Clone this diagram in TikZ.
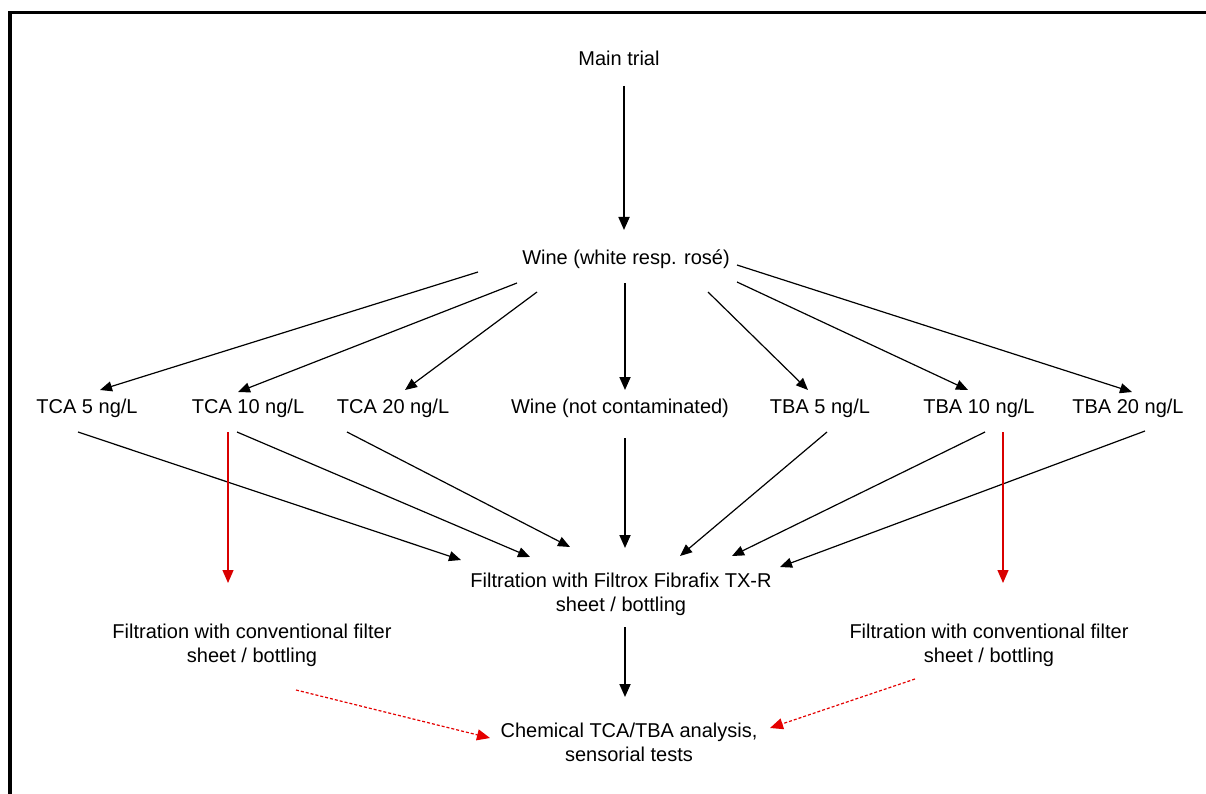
\documentclass[tikz,border=0pt]{standalone}
\usepackage{fontspec}
\setmainfont{Liberation Sans}
\usetikzlibrary{arrows.meta,calc}
\tikzset{
  lbl/.style={inner sep=0pt, font=\fontsize{20}{24}\selectfont, text height=0.72em, text depth=0.22em},
  lbl2/.style={inner sep=0pt, font=\fontsize{20}{24}\selectfont, align=center},
  arr/.style={-{Triangle[length=12pt,width=10pt]}, line width=1.2pt, black},
  arrb/.style={-{Triangle[length=13pt,width=11pt]}, line width=1.8pt, black},
  rarr/.style={-{Triangle[length=13pt,width=11pt]}, line width=1.3pt, red!85!black},
  rdash/.style={-{Triangle[length=13pt,width=11pt]}, line width=1.2pt, red!90!black, dash pattern=on 3pt off 2pt}
}
\begin{document}
\begin{tikzpicture}[x=1pt,y=-1pt]
\useasboundingbox (0,0) rectangle (1206,794);
\fill[white] (0,0) rectangle (1206,794);
\draw[line width=3.5pt] (9.8,794) -- (9.8,12.5) -- (1206,12.5);

\node[lbl] (main) at (619,63) {Main trial};
\node[lbl] (wine) at (626,262) {Wine (white resp. rosé)};
\node[lbl] (tca5) at (87,411) {TCA 5 ng/L};
\node[lbl] (tca10) at (248,411) {TCA 10 ng/L};
\node[lbl] (tca20) at (393,411) {TCA 20 ng/L};
\node[lbl] (winenc) at (620,411) {Wine (not contaminated)};
\node[lbl] (tba5) at (820,411) {TBA 5 ng/L};
\node[lbl] (tba10) at (979,411) {TBA 10 ng/L};
\node[lbl] (tba20) at (1128,411) {TBA 20 ng/L};
\node[lbl2] (filt) at (621,594) {Filtration with Filtrox Fibrafix TX-R\\sheet / bottling};
\node[lbl2] (cfl) at (252,645) {Filtration with conventional filter\\sheet / bottling};
\node[lbl2] (cfr) at (989,645) {Filtration with conventional filter\\sheet / bottling};
\node[lbl2] (chem) at (629,742) {Chemical TCA/TBA analysis,\\sensorial tests};

\draw[arrb] ($(main)+(5,23)$) -- ($(wine)+(-2,-32)$);

\draw[arr] ($(wine)+(-148,10)$) -- ($(tca5)+(13,-21)$);
\draw[arr] ($(wine)+(-109,21)$) -- ($(tca10)+(-10,-19)$);
\draw[arr] ($(wine)+(-89,30)$) -- ($(tca20)+(12,-21)$);
\draw[arrb] ($(wine)+(-1,21)$) -- ($(winenc)+(5,-21)$);
\draw[arr] ($(wine)+(82,30)$) -- ($(tba5)+(-12,-21)$);
\draw[arr] ($(wine)+(111,20)$) -- ($(tba10)+(-11,-21)$);
\draw[arr] ($(wine)+(111,3)$) -- ($(tba20)+(4,-19)$);

\draw[arr] ($(tca5)+(-9,21)$) -- ($(filt)+(-160,-34)$);
\draw[arr] ($(tca10)+(-11,21)$) -- ($(filt)+(-91,-37)$);
\draw[arr] ($(tca20)+(-46,21)$) -- ($(filt)+(-51,-47)$);
\draw[arrb] ($(winenc)+(5,27)$) -- ($(filt)+(4,-46)$);
\draw[arr] ($(tba5)+(7,21)$) -- ($(filt)+(59,-38)$);
\draw[arr] ($(tba10)+(6,21)$) -- ($(filt)+(111,-38)$);
\draw[arr] ($(tba20)+(17,20)$) -- ($(filt)+(159,-27)$);

\draw[rarr] ($(tca10)+(-20,21)$) -- ($(cfl)+(-24,-62)$);
\draw[rarr] ($(tba10)+(24,21)$) -- ($(cfr)+(14,-62)$);
\draw[arrb] ($(filt)+(4,33)$) -- ($(chem)+(-4,-45)$);
\draw[rdash] ($(cfl)+(44,45)$) -- ($(chem)+(-139,-4)$);
\draw[rdash] ($(cfr)+(-74,34)$) -- ($(chem)+(141,-14)$);
\end{tikzpicture}
\end{document}
